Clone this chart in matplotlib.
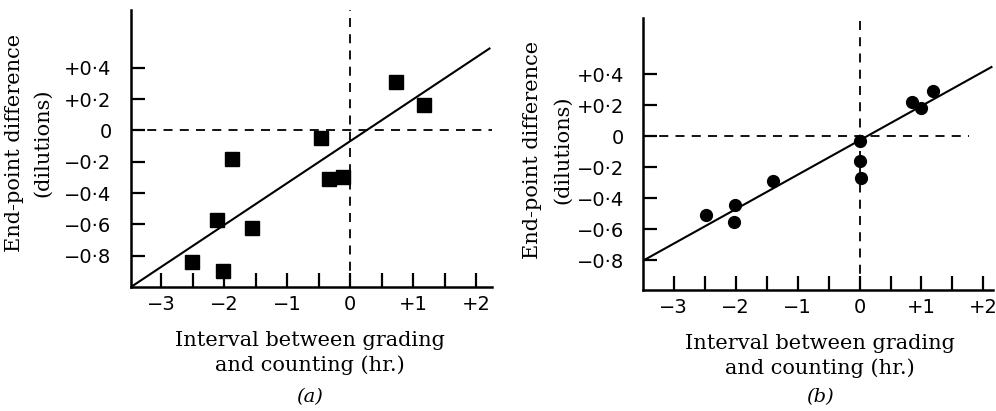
import matplotlib
matplotlib.use("Agg")
import matplotlib.pyplot as plt
import numpy as np

# Panel (a) data
a_x = [0.73, 1.17, -0.46, -1.88, -0.34, -0.11, -2.11, -1.56, -2.51, -2.02]
a_y = [0.31, 0.16, -0.05, -0.18, -0.31, -0.30, -0.57, -0.62, -0.84, -0.90]
a_line_x = [-3.48, 2.21]
a_line_y = [-1.00, 0.524]

# Panel (b) data
b_x = [-2.48, -2.01, -2.03, -1.40, 0.0, 0.0, 0.02, 0.85, 1.00, 1.19]
b_y = [-0.51, -0.44, -0.55, -0.29, -0.03, -0.16, -0.27, 0.22, 0.18, 0.29]
b_line_x = [-3.49, 2.13]
b_line_y = [-0.80, 0.445]

xticks_major = [-3, -2, -1, 0, 1, 2]
xtick_labels = ["\u22123", "\u22122", "\u22121", "0", "+1", "+2"]
xticks_minor = [-2.5, -1.5, -0.5, 0.5, 1.5]
yticks = [0.4, 0.2, 0.0, -0.2, -0.4, -0.6, -0.8]
ytick_labels = ["+0\u00b74", "+0\u00b72", "0", "\u22120\u00b72", "\u22120\u00b74", "\u22120\u00b76", "\u22120\u00b78"]

fig = plt.figure(figsize=(9.96, 4.11), dpi=100)

serif = ["DejaVu Serif"]
sans = ["DejaVu Sans"]
LFS = 15
TFS = 14

def style(ax, xlim, ylim, hdash_end, letter, xlabel_x):
    ax.set_xlim(*xlim)
    ax.set_ylim(*ylim)
    for s in ["top", "right"]:
        ax.spines[s].set_visible(False)
    for s in ["left", "bottom"]:
        ax.spines[s].set_linewidth(1.8)
    ax.set_xticks(xticks_major)
    ax.set_xticklabels(xtick_labels, family=sans, fontsize=TFS)
    ax.set_xticks(xticks_minor, minor=True)
    ax.set_yticks(yticks)
    ax.set_yticklabels(ytick_labels, family=sans, fontsize=TFS)
    ax.tick_params(axis="both", which="both", direction="in", length=10, width=1.6, pad=6)
    ax.tick_params(axis="y", pad=14)
    ax.axhline(0, xmin=0, xmax=(hdash_end - xlim[0]) / (xlim[1] - xlim[0]),
               color="black", ls=(0, (5, 4)), lw=1.3)
    ax.axvline(0, color="black", ls=(0, (5, 4)), lw=1.3)

# panel (a)
axa = fig.add_axes([0.1315, 0.3017, 0.494 - 0.1315, 0.9757 - 0.3017])
style(axa, (-3.48, 2.25), (-1.0, 0.77), 2.25, "a", 0)
axa.plot(a_line_x, a_line_y, color="black", lw=1.5)
axa.plot(a_x, a_y, ls="none", marker="s", ms=9.5, color="black")

# panel (b)
axb = fig.add_axes([0.646, 0.2944, 0.9967 - 0.646, 0.956 - 0.2944])
style(axb, (-3.49, 2.15), (-0.99, 0.76), 1.76, "b", 0)
axb.plot(b_line_x, b_line_y, color="black", lw=1.5)
axb.plot(b_x, b_y, ls="none", marker="o", ms=8.5, color="black")

# labels
fig.text(15 / 996, 1 - 143 / 411, "End-point difference", rotation=90, ha="center", va="center",
         family=serif, fontsize=LFS)
fig.text(43 / 996, 1 - 143 / 411, "(dilutions)", rotation=90, ha="center", va="center",
         family=serif, fontsize=LFS)
fig.text(533 / 996, 1 - 150 / 411, "End-point difference", rotation=90, ha="center", va="center",
         family=serif, fontsize=LFS)
fig.text(563 / 996, 1 - 150 / 411, "(dilutions)", rotation=90, ha="center", va="center",
         family=serif, fontsize=LFS)

fig.text(310 / 996, 1 - 340 / 411, "Interval between grading", ha="center", va="center",
         family=serif, fontsize=LFS)
fig.text(310 / 996, 1 - 365 / 411, "and counting (hr.)", ha="center", va="center",
         family=serif, fontsize=LFS)
fig.text(310 / 996, 1 - 397 / 411, "(a)", ha="center", va="center",
         family=serif, fontsize=LFS - 1, style="italic")

fig.text(820 / 996, 1 - 343 / 411, "Interval between grading", ha="center", va="center",
         family=serif, fontsize=LFS)
fig.text(820 / 996, 1 - 368 / 411, "and counting (hr.)", ha="center", va="center",
         family=serif, fontsize=LFS)
fig.text(820 / 996, 1 - 397 / 411, "(b)", ha="center", va="center",
         family=serif, fontsize=LFS - 1, style="italic")

fig.savefig("out.png", dpi=100)
